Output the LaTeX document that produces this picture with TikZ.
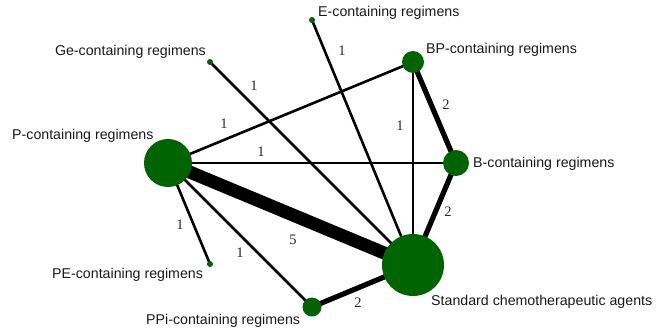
\documentclass[tikz,border=0pt]{standalone}
\usepackage{fontspec}
\setmainfont{Liberation Sans}
\newfontfamily\numfont{Liberation Serif}
\usetikzlibrary{backgrounds}
\definecolor{nodegreen}{RGB}{0,100,0}
\begin{document}
\begin{tikzpicture}[x=1pt,y=-1pt,
  trt/.style={circle,fill=nodegreen,inner sep=0pt,minimum size=#1},
  txt/.style={inner sep=0pt,font=\fontsize{14.2}{16}\selectfont,text=black!90},
  lbl/.style={inner sep=0pt,font=\numfont\fontsize{14.5}{16}\selectfont,text=black!85},
  w1/.style={line width=2.6pt},
  w2/.style={line width=5.2pt},
  w5/.style={line width=13pt}]
\useasboundingbox (0,0) rectangle (656,335);
% treatment nodes
\node[trt=48pt] (P) at (168,163) {};
\node[trt=62pt] (S) at (413,265) {};
\node[trt=26pt] (B) at (456,163) {};
\node[trt=22pt] (BP) at (413,62) {};
\node[trt=6pt] (E) at (312,20) {};
\node[trt=6pt] (Ge) at (210,62) {};
\node[trt=6pt] (PE) at (210,264) {};
\node[trt=19pt] (PPi) at (312,307) {};
% edges
\begin{scope}[on background layer]
\draw[w5] (P.center) -- (S.center);
\draw[w1] (P.center) -- (BP.center);
\draw[w1] (P.center) -- (B.center);
\draw[w1] (P.center) -- (PE.center);
\draw[w1] (P.center) -- (PPi.center);
\draw[w1] (Ge.center) -- (S.center);
\draw[w1] (E.center) -- (S.center);
\draw[w1] (BP.center) -- (S.center);
\draw[w2] (BP.center) -- (B.center);
\draw[w2] (B.center) -- (S.center);
\draw[w2] (PPi.center) -- (S.center);
\end{scope}
% edge labels
\node[lbl] (l1) at (224,124) {1};
\node[lbl] (l2) at (254,86) {1};
\node[lbl] (l3) at (261,152) {1};
\node[lbl] (l4) at (342,51) {1};
\node[lbl] (l5) at (446,105) {2};
\node[lbl] (l6) at (400,126) {1};
\node[lbl] (l7) at (448,212) {2};
\node[lbl] (l8) at (358,303) {2};
\node[lbl] (l9) at (180,225) {1};
\node[lbl] (l10) at (240,253) {1};
\node[lbl] (l11) at (293,240) {5};
% treatment names
\node[txt,anchor=west] (tE) at (318,13) {E-containing regimens};
\node[txt,anchor=east] (tGe) at (206,52) {Ge-containing regimens};
\node[txt,anchor=west] (tBP) at (426,50) {BP-containing regimens};
\node[txt,anchor=west] (tP) at (12,136) {P-containing regimens};
\node[txt,anchor=west] (tB) at (473,164) {B-containing regimens};
\node[txt,anchor=west] (tPE) at (52,275) {PE-containing regimens};
\node[txt,anchor=west] (tPPi) at (146,321) {PPi-containing regimens};
\node[txt,anchor=west] (tS) at (431,302) {Standard chemotherapeutic agents};
\end{tikzpicture}
\end{document}
